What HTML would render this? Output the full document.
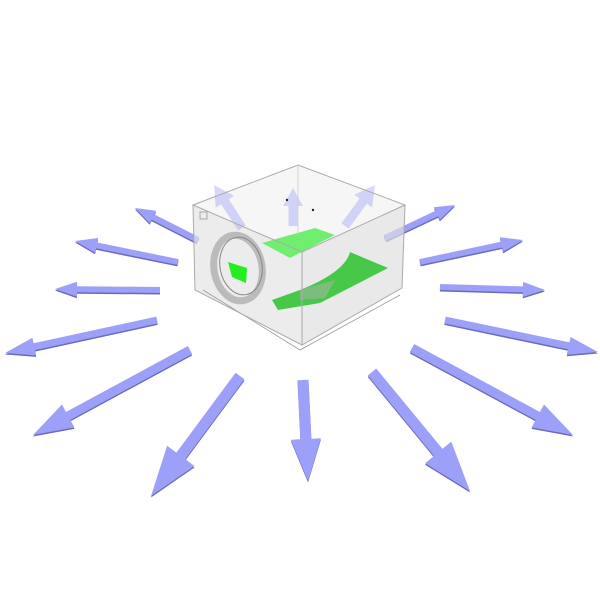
<!DOCTYPE html>
<html><head><style>html,body{margin:0;background:#fff;width:600px;height:600px;overflow:hidden}</style></head>
<body>
<svg id="s" width="600" height="600" viewBox="0 0 600 600" xmlns="http://www.w3.org/2000/svg">
<g id="back"></g>
<!-- box -->
<polygon points="193,205 298,165 405,205 402,288 302,345 195,290" fill="#ececec" fill-opacity="0.45"/>
<polygon points="193,205 302,252 302,345 195,290" fill="#dedede" fill-opacity="0.4"/>
<polygon points="302,252 405,205 402,288 302,345" fill="#d6d6d6" fill-opacity="0.4"/>
<polyline points="203,290 300,350 400,295" fill="none" stroke="#999" stroke-width="0.8"/>
<g id="inner"></g>
<polygon points="262,243 315,228 335,235 290,258" fill="#70ee70"/>
<path d="M272,300 L300,290 Q345,272 350,252 L388,268 L320,303 L278,310 Z" fill="#48c848"/>
<polygon points="300,290 335,280 325,298 300,300" fill="#b0b0b0" fill-opacity="0.5"/>
<ellipse cx="238" cy="268" rx="24" ry="33" transform="rotate(-10 238 268)" fill="none" stroke="#bbb" stroke-width="7"/>
<ellipse cx="241" cy="266" rx="21" ry="29" transform="rotate(-10 241 266)" fill="none" stroke="#888" stroke-width="1"/>
<path d="M228,262 L247,268 L246,283 L232,277 Z" fill="#22ee22"/>
<polygon points="193,205 298,165 405,205 302,252" fill="none" stroke="#aaa" stroke-width="1"/>
<polyline points="193,205 195,290 302,345 402,288 405,205" fill="none" stroke="#aaa" stroke-width="1"/>
<line x1="302" y1="252" x2="302" y2="345" stroke="#aaa" stroke-width="1"/>
<line x1="298" y1="165" x2="298" y2="235" stroke="#ccc" stroke-width="0.8"/>
<rect x="200" y="212" width="7" height="7" fill="none" stroke="#999" stroke-width="0.8"/>
<circle cx="287" cy="200" r="1.2" fill="#222"/><circle cx="313" cy="210" r="1.2" fill="#222"/>
<g id="front"></g>
</svg>
<script>
function arrow(g,tx,ty,hx,hy,sw,hw,hl,op){
 var dx=hx-tx,dy=hy-ty,L=Math.hypot(dx,dy),ux=dx/L,uy=dy/L,nx=-uy,ny=ux;
 var bx=hx-ux*hl,by=hy-uy*hl;
 var p=[[tx+nx*sw/2,ty+ny*sw/2],[bx+nx*sw/2,by+ny*sw/2],[bx+nx*hw/2,by+ny*hw/2],[hx,hy],[bx-nx*hw/2,by-ny*hw/2],[bx-nx*sw/2,by-ny*sw/2],[tx-nx*sw/2,ty-ny*sw/2]];
 var s=p.map(function(q){return q[0].toFixed(1)+","+q[1].toFixed(1)}).join(" ");
 var ns="http://www.w3.org/2000/svg";
 if(op==1){var sh=document.createElementNS(ns,"polygon");sh.setAttribute("points",s);sh.setAttribute("fill","#6a6ab8");sh.setAttribute("transform","translate(0,1.5)");g.appendChild(sh);}
 var e=document.createElementNS(ns,"polygon");e.setAttribute("points",s);e.setAttribute("fill","#9ca0f8");e.setAttribute("fill-opacity",op);g.appendChild(e);
}
var b=document.getElementById("back"),i=document.getElementById("inner"),f=document.getElementById("front");
arrow(b,198,240,135,208,6,14,20,1);
arrow(b,178,262,75,241,6,15,22,1);
arrow(b,160,290,55,289,6,15,22,1);
arrow(b,157,320,5,353,7,18,30,1);
arrow(b,190,350,33,435,9,26,40,1);
arrow(b,240,376,151,496,11,34,50,1);
arrow(b,303,380,308,481,11,30,42,1);
arrow(b,372,372,470,491,11,34,50,1);
arrow(b,412,348,573,435,9,26,40,1);
arrow(b,445,320,598,352,7,18,30,1);
arrow(b,440,287,545,290,6,15,22,1);
arrow(b,420,262,523,240,6,15,22,1);
arrow(b,385,238,455,205,6,14,20,1);
arrow(i,345,226,375,185,9,22,20,0.4);
arrow(i,293,226,293,188,9,20,18,0.4);
arrow(i,242,228,214,185,9,22,20,0.4);
</script>
</body></html>
